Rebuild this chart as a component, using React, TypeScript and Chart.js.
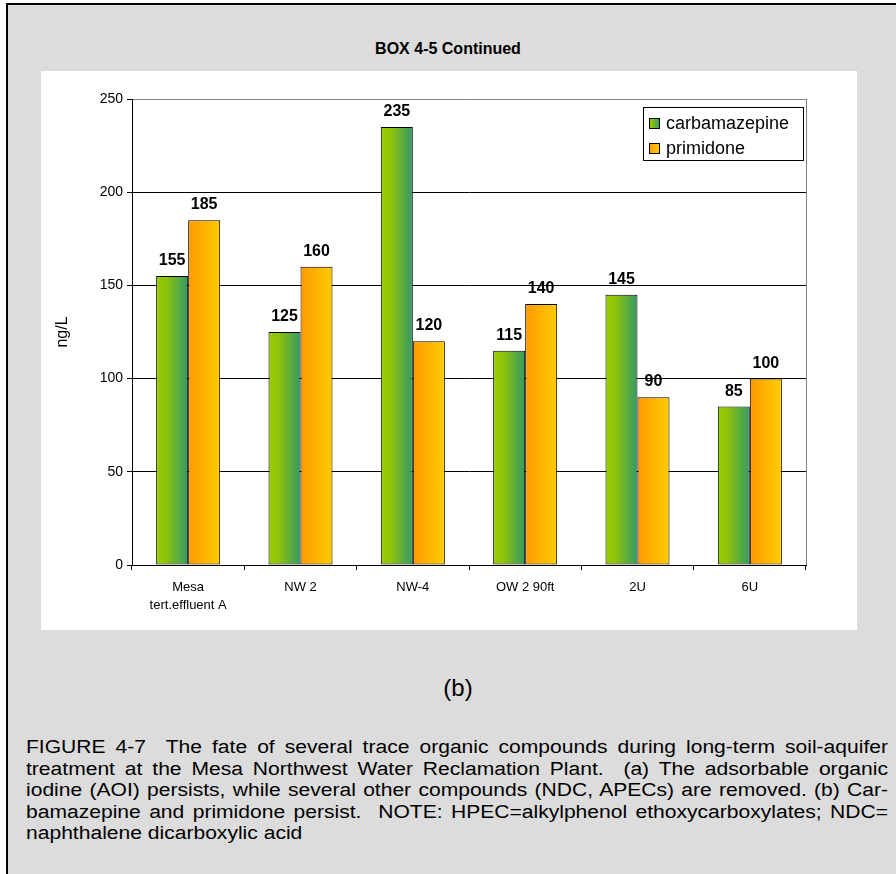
import React, { useEffect, useRef } from "react";
import { Chart, registerables } from "chart.js";

Chart.register(...registerables);

// ---- data ----
const categories: (string | string[])[] = [["Mesa", "tert.effluent A"], "NW 2", "NW-4", "OW 2 90ft", "2U", "6U"];
const carbamazepine = [155, 125, 235, 115, 145, 85];
const primidone = [185, 160, 120, 140, 90, 100];
const seriesNames = ["carbamazepine", "primidone"];
const yMin = 0;
const yMax = 250;
const yStep = 50;
const boxTitle = "BOX 4-5 Continued";
const yAxisTitle = "ng/L";
const panelLabel = "(b)";
const captionLines = [
  "FIGURE 4-7\u00a0 The fate of several trace organic compounds during long-term soil-aquifer",
  "treatment at the Mesa Northwest Water Reclamation Plant.\u00a0 (a) The adsorbable organic",
  "iodine (AOI) persists, while several other compounds (NDC, APECs) are removed. (b) Car-",
  "bamazepine and primidone persist.\u00a0 NOTE: HPEC=alkylphenol ethoxycarboxylates; NDC=",
  "naphthalene dicarboxylic acid",
];

// ---- styles ----
const gradientStops = [
  ["#99CC00", "#8FC40A", "#339966"],
  ["#FF9900", "#FFCC00"],
];
const FONT = "'Liberation Sans', Arial, Helvetica, sans-serif";

function makeGrad(ctx: CanvasRenderingContext2D, x0: number, x1: number, stops: string[]) {
  const g = ctx.createLinearGradient(x0, 0, x1, 0);
  if (stops.length === 3) {
    g.addColorStop(0, stops[0]);
    g.addColorStop(0.3, stops[1]);
    g.addColorStop(1, stops[2]);
  } else {
    g.addColorStop(0, stops[0]);
    g.addColorStop(1, stops[1]);
  }
  return g;
}

const decorPlugin = {
  id: "decor",
  beforeDatasetsDraw(chart: any) {
    const ctx = chart.ctx;
    chart.data.datasets.forEach((ds: any, di: number) => {
      const meta = chart.getDatasetMeta(di);
      meta.data.forEach((el: any) => {
        const { x, width } = el.getProps(["x", "width"], true);
        const g = makeGrad(ctx, x - width / 2, x + width / 2, gradientStops[di]);
        el.options = Object.assign({}, el.options, { backgroundColor: g });
      });
    });
  },
  afterDatasetsDraw(chart: any) {
    const ctx = chart.ctx;
    ctx.save();
    ctx.fillStyle = "#000";
    ctx.font = `bold 16px ${FONT}`;
    ctx.textAlign = "center";
    ctx.textBaseline = "alphabetic";
    chart.data.datasets.forEach((ds: any, di: number) => {
      const meta = chart.getDatasetMeta(di);
      meta.data.forEach((el: any, i: number) => {
        const { x, y } = el.getProps(["x", "y"], true);
        ctx.fillText(String(ds.data[i]), x, y - 11);
      });
    });
    ctx.restore();
  },
  afterDraw(chart: any) {
    const ctx = chart.ctx;
    const a = chart.chartArea;
    ctx.save();
    // right border of plot area
    ctx.strokeStyle = "#808080";
    ctx.lineWidth = 1;
    ctx.beginPath();
    ctx.moveTo(Math.round(a.right) + 0.5, a.top);
    ctx.lineTo(Math.round(a.right) + 0.5, a.bottom);
    ctx.stroke();
    // legend
    const lx = a.right - 163;
    const ly = a.top + 8;
    const lw = 160;
    const lh = 53;
    ctx.fillStyle = "#fff";
    ctx.fillRect(lx, ly, lw, lh);
    ctx.strokeStyle = "#000";
    ctx.strokeRect(Math.round(lx) + 0.5, Math.round(ly) + 0.5, lw, lh);
    ctx.font = `18px ${FONT}`;
    ctx.textBaseline = "middle";
    ctx.textAlign = "left";
    chart.data.datasets.forEach((ds: any, di: number) => {
      const cy = ly + 16 + di * 25;
      const sx = Math.round(lx) + 6;
      const sy = Math.round(cy - 5);
      ctx.fillStyle = makeGrad(ctx, sx, sx + 10, gradientStops[di]);
      ctx.fillRect(sx, sy, 10, 10);
      ctx.strokeStyle = "#000";
      ctx.strokeRect(sx + 0.5, sy + 0.5, 10, 10);
      ctx.fillStyle = "#000";
      ctx.fillText(ds.label, sx + 17, cy + 1);
    });
    ctx.restore();
  },
};

function ChartPanel() {
  const ref = useRef<HTMLCanvasElement | null>(null);
  useEffect(() => {
    if (!ref.current) return;
    const chart = new Chart(ref.current, {
      type: "bar",
      data: {
        labels: categories,
        datasets: [
          { label: seriesNames[0], data: carbamazepine },
          { label: seriesNames[1], data: primidone },
        ].map((d) => ({
          ...d,
          backgroundColor: "#888",
          borderColor: "#000",
          borderWidth: 1,
          borderSkipped: false,
          categoryPercentage: 0.57,
          barPercentage: 1.0,
        })),
      },
      options: {
        animation: false,
        responsive: false,
        devicePixelRatio: 1,
        layout: { padding: { top: 28, right: 51, left: 0, bottom: 0 } },
        plugins: {
          legend: { display: false },
          tooltip: { enabled: false },
          title: { display: false },
        },
        scales: {
          x: {
            grid: {
              offset: true,
              drawOnChartArea: false,
              drawTicks: true,
              tickLength: 5,
              color: "#000",
              tickColor: "#000",
            },
            border: { color: "#000", width: 1 },
            ticks: {
              color: "#000",
              font: { family: FONT, size: 13, lineHeight: 1.4 },
              padding: 8,
              maxRotation: 0,
              autoSkip: false,
            },
            afterFit: (s: any) => {
              s.height = 65;
            },
          },
          y: {
            min: yMin,
            max: yMax,
            ticks: {
              stepSize: yStep,
              color: "#000",
              font: { family: FONT, size: 14 },
              padding: 4,
            },
            grid: {
              color: (c: any) => (c.tick && c.tick.value === yMax ? "#808080" : "#000"),
              tickColor: "#000",
              tickLength: 5,
              drawTicks: true,
            },
            border: { color: "#000", width: 1 },
            title: {
              display: true,
              text: yAxisTitle,
              color: "#000",
              font: { family: FONT, size: 16 },
              padding: { top: 12, bottom: 0 },
            },
            afterFit: (s: any) => {
              s.width = 91;
            },
          },
        },
      },
      plugins: [decorPlugin],
    } as any);
    return () => chart.destroy();
  }, []);
  return <canvas ref={ref} width={816} height={559} style={{ display: "block", width: 816, height: 559 }} />;
}

const CAP_SCALE = 1.17;
const CAP_WIDTH = 862;

export default function App() {
  return (
    <div
      style={{
        position: "fixed",
        left: 0,
        top: 0,
        width: 896,
        height: 874,
        overflow: "hidden",
        background: "#fff",
        fontFamily: FONT,
      }}
    >
      <div
        style={{
          position: "absolute",
          left: 6,
          top: 3,
          width: 920,
          height: 900,
          background: "#dcdcdc",
          border: "2px solid #000",
        }}
      />
      <div
        style={{
          position: "absolute",
          left: 0,
          width: 896,
          top: 39,
          lineHeight: "20px",
          textAlign: "center",
          fontWeight: "bold",
          fontSize: 16,
          color: "#000",
        }}
      >
        {boxTitle}
      </div>
      <div style={{ position: "absolute", left: 41, top: 71, width: 816, height: 559, background: "#fff" }}>
        <ChartPanel />
      </div>
      <div
        style={{
          position: "absolute",
          left: 20,
          width: 876,
          top: 673,
          lineHeight: "30px",
          textAlign: "center",
          fontSize: 24,
          color: "#000",
        }}
      >
        {panelLabel}
      </div>
      <div
        style={{
          position: "absolute",
          left: 26,
          width: CAP_WIDTH / CAP_SCALE,
          top: 737,
          fontSize: 18,
          lineHeight: "21.5px",
          color: "#000",
          transform: `scaleX(${CAP_SCALE})`,
          transformOrigin: "0 0",
        }}
      >
        {captionLines.map((t, i) => (
          <div
            key={i}
            style={{
              textAlign: i < captionLines.length - 1 ? "justify" : "left",
              textAlignLast: i < captionLines.length - 1 ? "justify" : "left",
            } as any}
          >
            {t}
          </div>
        ))}
      </div>
    </div>
  );
}
